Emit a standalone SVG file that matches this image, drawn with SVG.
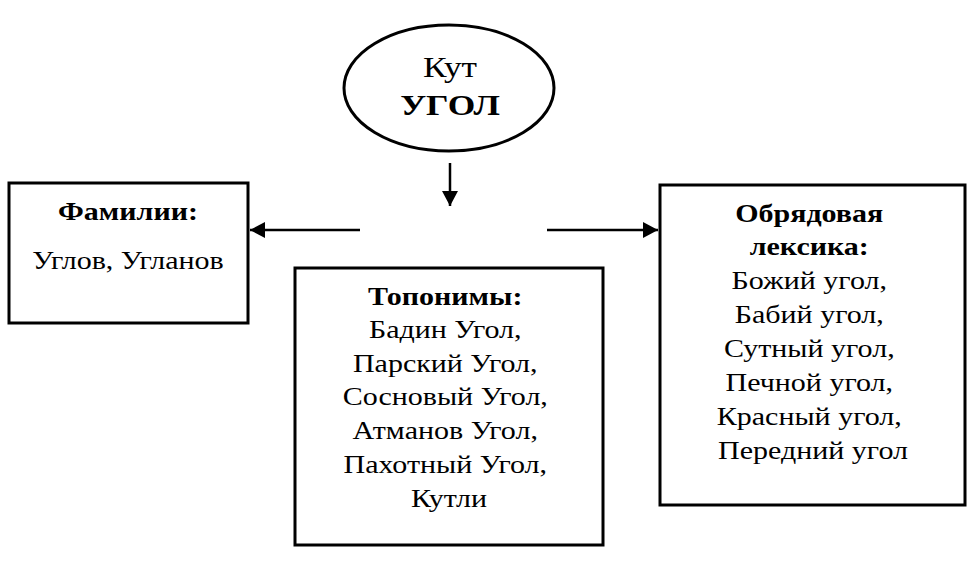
<svg xmlns="http://www.w3.org/2000/svg" width="978" height="571" viewBox="0 0 978 571">
<defs>
<style>
.box{fill:#fff;stroke:#000;stroke-width:3}
.t{font-family:"Liberation Serif","Times New Roman",serif;font-size:25px;fill:#000;text-anchor:middle}
.b{font-weight:bold}
.c{stroke:#000;stroke-width:2.5;fill:none}
</style>
<marker id="ah" viewBox="0 0 15 16" refX="15" refY="8" markerWidth="15" markerHeight="16" markerUnits="userSpaceOnUse" orient="auto">
<path d="M0,0 L15,8 L0,16 Z" fill="#000"/>
</marker>
</defs>
<rect width="978" height="571" fill="#fff"/>
<g id="connectors">
<line class="c" x1="450" y1="163" x2="450" y2="206" marker-end="url(#ah)"/>
<line class="c" x1="360" y1="230" x2="250" y2="230" marker-end="url(#ah)"/>
<line class="c" x1="547" y1="230" x2="658" y2="230" marker-end="url(#ah)"/>
</g>
<g id="root">
<ellipse class="box" cx="449" cy="88" rx="105" ry="63"/>
<g transform="translate(450,0) scale(1.18,1)">
<text class="t" x="0" y="77" style="font-size:30px">Кут</text>
<text class="t b" x="0" y="115" style="font-size:30px">УГОЛ</text>
</g>
</g>
<g id="familii">
<rect class="box" x="9" y="183" width="239" height="140"/>
<g transform="translate(128,0) scale(1.2,1)">
<text class="t b" x="0" y="220">Фамилии:</text>
<text class="t" x="0" y="269">Углов, Угланов</text>
</g>
</g>
<g id="toponimy">
<rect class="box" x="295" y="268" width="308" height="277"/>
<g transform="translate(449,0) scale(1.2,1)">
<text class="t" x="0">
<tspan class="b" x="0" y="305">Топонимы:</tspan>
<tspan x="0" y="338">Бадин Угол,</tspan>
<tspan x="0" y="372">Парский Угол,</tspan>
<tspan x="0" y="405">Сосновый Угол,</tspan>
<tspan x="0" y="439">Атманов Угол,</tspan>
<tspan x="0" y="473">Пахотный Угол,</tspan>
<tspan x="0" y="507">Кутли</tspan>
</text>
</g>
</g>
<g id="obryad">
<rect class="box" x="660" y="185" width="305" height="320"/>
<g transform="translate(813,0) scale(1.2,1)">
<text class="t" x="0">
<tspan class="b" x="0" y="222">Обрядовая</tspan>
<tspan class="b" x="0" y="255">лексика:</tspan>
<tspan x="0" y="289">Божий угол,</tspan>
<tspan x="0" y="323">Бабий угол,</tspan>
<tspan x="0" y="357">Сутный угол,</tspan>
<tspan x="0" y="391">Печной угол,</tspan>
<tspan x="0" y="425">Красный угол,</tspan>
<tspan x="0" y="459">Передний угол</tspan>
</text>
</g>
</g>
</svg>
